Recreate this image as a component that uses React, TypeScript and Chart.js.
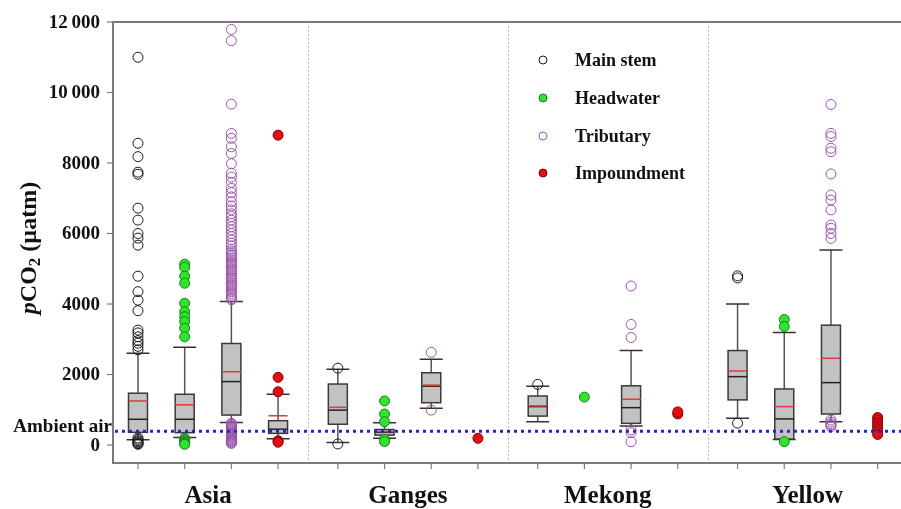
import React, { useEffect, useRef } from 'react';
import { Chart, registerables } from 'chart.js';

Chart.register(...registerables);

const groups = ['Asia', 'Ganges', 'Mekong', 'Yellow'];
const types = ['Main stem', 'Headwater', 'Tributary', 'Impoundment'];
const yTickValues = [0, 2000, 4000, 6000, 8000, 10000, 12000];
const yTickLabels = ['0', '2000', '4000', '6000', '8000', '10\u2009000', '12\u2009000'];
const ambientAir = 390;

// [lower whisker, Q1, median, mean, Q3, upper whisker] per group (Asia, Ganges, Mekong, Yellow)
const mainStemBoxes: (number[] | null)[] = [
  [150, 360, 730, 1250, 1470, 2600],
  [70, 590, 990, 1070, 1730, 2150],
  [660, 820, 1090, 1110, 1390, 1670],
  [760, 1280, 1940, 2100, 2680, 4000],
];
const headwaterBoxes: (number[] | null)[] = [
  [210, 350, 730, 1140, 1440, 2770],
  [190, 280, 360, 380, 440, 630],
  null,
  [160, 170, 740, 1090, 1590, 3190],
];
const tributaryBoxes: (number[] | null)[] = [
  [640, 850, 1800, 2080, 2880, 4070],
  [1040, 1200, 1670, 1700, 2050, 2430],
  [540, 615, 1060, 1300, 1680, 2680],
  [660, 880, 1770, 2460, 3400, 5530],
];
const impoundmentBoxes: (number[] | null)[] = [
  [180, 330, 450, 830, 690, 1440],
  null,
  null,
  null,
];

// outliers / single observations per group
const mainStemPoints: number[][] = [
  [11000, 8560, 8180, 7740, 7680, 6720, 6380, 6000, 5870, 5670, 4790, 4350, 4110, 3810, 3260, 3180, 3070, 2960, 2890, 2800, 2700, 200, 160, 120, 90, 60, 40, 20],
  [2180, 30],
  [1720],
  [4800, 4740, 620],
];
const headwaterPoints: number[][] = [
  [5130, 5040, 4790, 4590, 4020, 3780, 3640, 3500, 3310, 3070, 190, 150, 110, 80, 50, 20],
  [1250, 880, 660, 160, 100],
  [1360],
  [3560, 3360, 95],
];
const tributaryPoints: number[][] = [
  [11790, 11470, 9670, 8840, 8700, 8460, 8270, 7980, 7710, 7600, 7450, 7280, 7160, 7040, 6900, 6780, 6670, 6560, 6480, 6380, 6290, 6190, 6100, 6000, 5910, 5820, 5720, 5650,
    5560, 5500, 5450, 5400, 5350, 5300, 5250, 5200, 5150, 5100, 5050, 5000, 4950, 4900, 4850, 4800, 4750, 4700, 4650, 4600, 4550, 4500, 4450, 4400, 4350, 4300, 4250, 4200, 4150, 4120,
    620, 595, 570, 545, 520, 495, 470, 445, 420, 395, 370, 345, 320, 295, 270, 245, 220, 195, 170, 145, 120, 95, 70, 45],
  [2630, 990],
  [4510, 3420, 3050, 430, 350, 95],
  [9660, 8840, 8750, 8420, 8320, 7690, 7090, 6950, 6670, 6240, 6150, 6000, 5860, 710, 650, 600, 560, 520],
];
const impoundmentPoints: number[][] = [
  [8790, 1920, 1510, 120, 80],
  [190],
  [880, 940],
  [780, 700, 620, 540, 460, 380, 300],
];

const boxSets = [mainStemBoxes, headwaterBoxes, tributaryBoxes, impoundmentBoxes];
const pointSets = [mainStemPoints, headwaterPoints, tributaryPoints, impoundmentPoints];

const GROUP_STEP = 4.28;
const pos = (g: number, s: number) => g * GROUP_STEP + s;

const markerStyles = [
  { fill: 'rgba(255,255,255,0)', stroke: '#1a1a1a' },
  { fill: '#2ee52e', stroke: '#1d7d1d' },
  { fill: 'rgba(255,255,255,0)', stroke: '#9a55aa' },
  { fill: '#e01010', stroke: '#8a0000' },
];

const FONT = '"Liberation Serif", "Times New Roman", serif';

const boxPlugin = {
  id: 'boxPlugin',
  beforeDatasetsDraw(chart: any) {
    const { ctx, chartArea: a, scales } = chart;
    const x = scales.x;
    const y = scales.y;
    ctx.save();
    // group separators
    ctx.strokeStyle = '#a8a8a8';
    ctx.lineWidth = 1;
    ctx.setLineDash([1.5, 2.5]);
    for (let g = 0; g < groups.length - 1; g++) {
      const px = Math.round(x.getPixelForValue(pos(g, 3 + (GROUP_STEP - 3) / 2))) + 0.5;
      ctx.beginPath();
      ctx.moveTo(px, a.top);
      ctx.lineTo(px, a.bottom);
      ctx.stroke();
    }
    ctx.setLineDash([]);
    // boxes
    const half = 9.5;
    const capHalf = 11.5;
    boxSets.forEach((set, s) => {
      set.forEach((b, g) => {
        if (!b) return;
        const [lo, q1, med, mean, q3, hi] = b;
        const cx = x.getPixelForValue(pos(g, s));
        const pLo = y.getPixelForValue(lo);
        const pQ1 = y.getPixelForValue(q1);
        const pMed = y.getPixelForValue(med);
        const pMean = y.getPixelForValue(mean);
        const pQ3 = y.getPixelForValue(q3);
        const pHi = y.getPixelForValue(hi);
        ctx.strokeStyle = '#555555';
        ctx.lineWidth = 1.5;
        ctx.beginPath();
        ctx.moveTo(cx, pHi);
        ctx.lineTo(cx, pQ3);
        ctx.moveTo(cx, pQ1);
        ctx.lineTo(cx, pLo);
        ctx.stroke();
        ctx.strokeStyle = '#333333';
        ctx.beginPath();
        ctx.moveTo(cx - capHalf, pHi);
        ctx.lineTo(cx + capHalf, pHi);
        ctx.moveTo(cx - capHalf, pLo);
        ctx.lineTo(cx + capHalf, pLo);
        ctx.stroke();
        ctx.fillStyle = '#c2c2c2';
        ctx.fillRect(cx - half, pQ3, half * 2, pQ1 - pQ3);
        ctx.strokeStyle = '#3a3a3a';
        ctx.strokeRect(cx - half, pQ3, half * 2, pQ1 - pQ3);
        ctx.strokeStyle = '#222222';
        ctx.beginPath();
        ctx.moveTo(cx - half, pMed);
        ctx.lineTo(cx + half, pMed);
        ctx.stroke();
        ctx.strokeStyle = '#e03a3a';
        ctx.beginPath();
        ctx.moveTo(cx - half, pMean);
        ctx.lineTo(cx + half, pMean);
        ctx.stroke();
      });
    });
    ctx.restore();
  },
  afterDatasetsDraw(chart: any) {
    const { ctx, chartArea: a, scales } = chart;
    const x = scales.x;
    const y = scales.y;
    ctx.save();
    // ambient air line
    const pa = y.getPixelForValue(ambientAir);
    ctx.strokeStyle = '#2424c8';
    ctx.lineWidth = 3;
    ctx.setLineDash([3, 4]);
    ctx.beginPath();
    ctx.moveTo(a.left + 2, pa);
    ctx.lineTo(a.right, pa);
    ctx.stroke();
    ctx.setLineDash([]);
    // frame
    ctx.strokeStyle = '#7a7a7a';
    ctx.lineWidth = 2;
    ctx.beginPath();
    ctx.moveTo(a.right, a.top);
    ctx.lineTo(a.left, a.top);
    ctx.lineTo(a.left, a.bottom);
    ctx.lineTo(a.right, a.bottom);
    ctx.stroke();
    // y ticks
    ctx.lineWidth = 1.2;
    ctx.fillStyle = '#111';
    ctx.font = `bold 19px ${FONT}`;
    ctx.textAlign = 'right';
    ctx.textBaseline = 'middle';
    yTickValues.forEach((v, i) => {
      const py = y.getPixelForValue(v);
      ctx.beginPath();
      ctx.moveTo(a.left - 6, py);
      ctx.lineTo(a.left, py);
      ctx.stroke();
      ctx.fillText(yTickLabels[i], a.left - 13, py + 1);
    });
    // ambient air label
    ctx.textBaseline = 'alphabetic';
    ctx.fillText('Ambient air', a.left - 1, pa + 1);
    // x ticks
    for (let g = 0; g < groups.length; g++) {
      for (let s = 0; s < types.length; s++) {
        const px = x.getPixelForValue(pos(g, s));
        ctx.beginPath();
        ctx.moveTo(px, a.bottom);
        ctx.lineTo(px, a.bottom + 6);
        ctx.stroke();
      }
    }
    // group labels
    ctx.font = `bold 25px ${FONT}`;
    ctx.textAlign = 'center';
    groups.forEach((name, g) => {
      ctx.fillText(name, x.getPixelForValue(pos(g, 1.5)), a.bottom + 40);
    });
    // legend
    const legendX = 543;
    const legendY = [60, 98, 136, 173];
    ctx.font = `bold 18px ${FONT}`;
    ctx.textAlign = 'left';
    ctx.textBaseline = 'middle';
    types.forEach((t, i) => {
      const m = markerStyles[i];
      ctx.beginPath();
      ctx.arc(legendX, legendY[i], 4, 0, Math.PI * 2);
      ctx.fillStyle = m.fill;
      ctx.fill();
      ctx.strokeStyle = m.stroke;
      ctx.lineWidth = 1;
      ctx.stroke();
      ctx.fillStyle = '#111';
      ctx.fillText(t, legendX + 32, legendY[i] + 1);
    });
    // y title
    ctx.translate(30, 248);
    ctx.rotate(-Math.PI / 2);
    const parts = [
      { t: 'p', f: `italic bold 24px ${FONT}`, dy: 0 },
      { t: 'CO', f: `bold 24px ${FONT}`, dy: 0 },
      { t: '2', f: `bold 17px ${FONT}`, dy: 6 },
      { t: ' (\u00b5atm)', f: `bold 24px ${FONT}`, dy: 0 },
    ];
    let total = 0;
    parts.forEach((p) => {
      ctx.font = p.f;
      total += ctx.measureText(p.t).width;
    });
    let cur = -total / 2;
    ctx.textBaseline = 'middle';
    ctx.fillStyle = '#111';
    parts.forEach((p) => {
      ctx.font = p.f;
      ctx.fillText(p.t, cur, p.dy);
      cur += ctx.measureText(p.t).width;
    });
    ctx.restore();
  },
};

export default function App() {
  const ref = useRef<HTMLCanvasElement | null>(null);
  useEffect(() => {
    if (!ref.current) return;
    const datasets = pointSets.map((set, s) => ({
      type: 'scatter' as const,
      label: types[s],
      data: set.flatMap((vals, g) => vals.map((v) => ({ x: pos(g, s), y: v }))),
      pointRadius: 5,
      pointBorderWidth: 1,
      pointBackgroundColor: markerStyles[s].fill,
      pointBorderColor: markerStyles[s].stroke,
      showLine: false,
    }));
    const chart = new Chart(ref.current, {
      type: 'scatter',
      data: { datasets },
      options: {
        animation: false,
        responsive: false,
        devicePixelRatio: 1,
        events: [],
        layout: { autoPadding: false, padding: { left: 113, top: 22, right: 0, bottom: 46 } },
        plugins: { legend: { display: false }, tooltip: { enabled: false } },
        scales: {
          x: { type: 'linear', min: -0.535, max: 16.34, display: false },
          y: { type: 'linear', min: -510, max: 12000, display: false },
        },
      },
      plugins: [boxPlugin],
    });
    return () => chart.destroy();
  }, []);
  return (
    <div style={{ position: 'absolute', left: 0, top: 0, width: 901, height: 509, background: '#fff' }}>
      <canvas ref={ref} width={901} height={509} style={{ width: 901, height: 509 }} />
    </div>
  );
}
